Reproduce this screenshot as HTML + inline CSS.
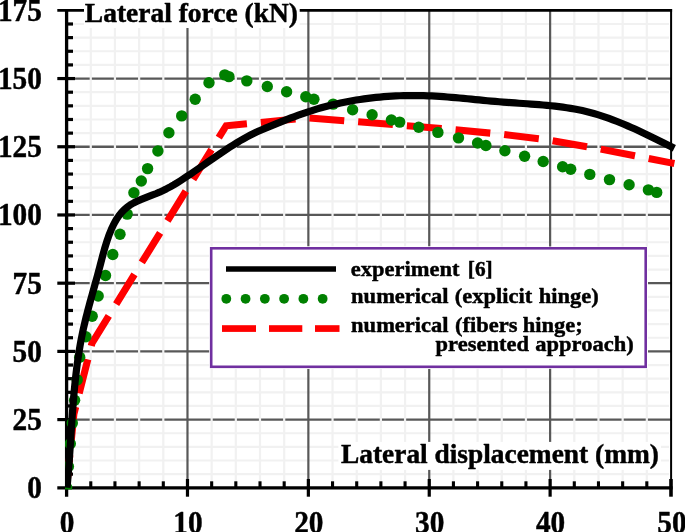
<!DOCTYPE html>
<html lang="en"><head><meta charset="utf-8"><title>Lateral force vs lateral displacement</title>
<style>html,body{margin:0;padding:0;background:#fff}body{width:685px;height:532px;overflow:hidden}svg{display:block}text{font-family:"Liberation Serif",serif;font-weight:bold;fill:#000;stroke:#000;stroke-width:0.45px;stroke-linejoin:round}</style></head><body>
<svg width="685" height="532" viewBox="0 0 685 532">
<rect width="685" height="532" fill="#fff"/>
<g stroke="#585858" stroke-width="2.3" fill="none">
<line x1="66.6" y1="419.59" x2="671" y2="419.59"/>
<line x1="66.6" y1="351.39" x2="671" y2="351.39"/>
<line x1="66.6" y1="283.18" x2="671" y2="283.18"/>
<line x1="66.6" y1="214.97" x2="671" y2="214.97"/>
<line x1="66.6" y1="146.76" x2="671" y2="146.76"/>
<line x1="66.6" y1="78.56" x2="671" y2="78.56"/>
</g>
<g stroke="#f1f1f1" stroke-width="2.2" fill="none">
<line x1="66.6" y1="474.16" x2="669" y2="474.16"/>
<line x1="66.6" y1="460.52" x2="669" y2="460.52"/>
<line x1="66.6" y1="446.88" x2="669" y2="446.88"/>
<line x1="66.6" y1="433.23" x2="669" y2="433.23"/>
<line x1="66.6" y1="405.95" x2="669" y2="405.95"/>
<line x1="66.6" y1="392.31" x2="669" y2="392.31"/>
<line x1="66.6" y1="378.67" x2="669" y2="378.67"/>
<line x1="66.6" y1="365.03" x2="669" y2="365.03"/>
<line x1="66.6" y1="337.74" x2="669" y2="337.74"/>
<line x1="66.6" y1="324.1" x2="669" y2="324.1"/>
<line x1="66.6" y1="310.46" x2="669" y2="310.46"/>
<line x1="66.6" y1="296.82" x2="669" y2="296.82"/>
<line x1="66.6" y1="269.54" x2="669" y2="269.54"/>
<line x1="66.6" y1="255.9" x2="669" y2="255.9"/>
<line x1="66.6" y1="242.25" x2="669" y2="242.25"/>
<line x1="66.6" y1="228.61" x2="669" y2="228.61"/>
<line x1="66.6" y1="201.33" x2="669" y2="201.33"/>
<line x1="66.6" y1="187.69" x2="669" y2="187.69"/>
<line x1="66.6" y1="174.05" x2="669" y2="174.05"/>
<line x1="66.6" y1="160.41" x2="669" y2="160.41"/>
<line x1="66.6" y1="133.12" x2="669" y2="133.12"/>
<line x1="66.6" y1="119.48" x2="669" y2="119.48"/>
<line x1="66.6" y1="105.84" x2="669" y2="105.84"/>
<line x1="66.6" y1="92.2" x2="669" y2="92.2"/>
<line x1="66.6" y1="64.92" x2="669" y2="64.92"/>
<line x1="66.6" y1="51.27" x2="669" y2="51.27"/>
<line x1="66.6" y1="37.63" x2="669" y2="37.63"/>
<line x1="66.6" y1="23.99" x2="669" y2="23.99"/>
<line x1="90.78" y1="10.35" x2="90.78" y2="487.8"/>
<line x1="114.95" y1="10.35" x2="114.95" y2="487.8"/>
<line x1="139.13" y1="10.35" x2="139.13" y2="487.8"/>
<line x1="163.3" y1="10.35" x2="163.3" y2="487.8"/>
<line x1="211.66" y1="10.35" x2="211.66" y2="487.8"/>
<line x1="235.83" y1="10.35" x2="235.83" y2="487.8"/>
<line x1="260.01" y1="10.35" x2="260.01" y2="487.8"/>
<line x1="284.18" y1="10.35" x2="284.18" y2="487.8"/>
<line x1="332.54" y1="10.35" x2="332.54" y2="487.8"/>
<line x1="356.71" y1="10.35" x2="356.71" y2="487.8"/>
<line x1="380.89" y1="10.35" x2="380.89" y2="487.8"/>
<line x1="405.06" y1="10.35" x2="405.06" y2="487.8"/>
<line x1="453.42" y1="10.35" x2="453.42" y2="487.8"/>
<line x1="477.59" y1="10.35" x2="477.59" y2="487.8"/>
<line x1="501.77" y1="10.35" x2="501.77" y2="487.8"/>
<line x1="525.94" y1="10.35" x2="525.94" y2="487.8"/>
<line x1="574.3" y1="10.35" x2="574.3" y2="487.8"/>
<line x1="598.47" y1="10.35" x2="598.47" y2="487.8"/>
<line x1="622.65" y1="10.35" x2="622.65" y2="487.8"/>
<line x1="646.82" y1="10.35" x2="646.82" y2="487.8"/>
</g>
<g stroke="#585858" stroke-width="2.2" fill="none">
<line x1="187.48" y1="10.35" x2="187.48" y2="487.8"/>
<line x1="308.36" y1="10.35" x2="308.36" y2="487.8"/>
<line x1="429.24" y1="10.35" x2="429.24" y2="487.8"/>
<line x1="550.12" y1="10.35" x2="550.12" y2="487.8"/>
</g>
<g stroke="#000" fill="none">
<line x1="57.3" y1="10.4" x2="672.1" y2="10.4" stroke-width="2.9"/>
<line x1="671.1" y1="9" x2="671.1" y2="487.8" stroke-width="2"/>
<line x1="66.6" y1="9" x2="66.6" y2="496.7" stroke-width="3.3"/>
<line x1="57.3" y1="487.8" x2="672.6" y2="487.8" stroke-width="3.3"/>
<line x1="66.6" y1="474.16" x2="73" y2="474.16" stroke-width="3.2"/>
<line x1="66.6" y1="460.52" x2="73" y2="460.52" stroke-width="3.2"/>
<line x1="66.6" y1="446.88" x2="73" y2="446.88" stroke-width="3.2"/>
<line x1="66.6" y1="433.23" x2="73" y2="433.23" stroke-width="3.2"/>
<line x1="57.3" y1="419.59" x2="75" y2="419.59" stroke-width="3.2"/>
<line x1="66.6" y1="405.95" x2="73" y2="405.95" stroke-width="3.2"/>
<line x1="66.6" y1="392.31" x2="73" y2="392.31" stroke-width="3.2"/>
<line x1="66.6" y1="378.67" x2="73" y2="378.67" stroke-width="3.2"/>
<line x1="66.6" y1="365.03" x2="73" y2="365.03" stroke-width="3.2"/>
<line x1="57.3" y1="351.39" x2="75" y2="351.39" stroke-width="3.2"/>
<line x1="66.6" y1="337.74" x2="73" y2="337.74" stroke-width="3.2"/>
<line x1="66.6" y1="324.1" x2="73" y2="324.1" stroke-width="3.2"/>
<line x1="66.6" y1="310.46" x2="73" y2="310.46" stroke-width="3.2"/>
<line x1="66.6" y1="296.82" x2="73" y2="296.82" stroke-width="3.2"/>
<line x1="57.3" y1="283.18" x2="75" y2="283.18" stroke-width="3.2"/>
<line x1="66.6" y1="269.54" x2="73" y2="269.54" stroke-width="3.2"/>
<line x1="66.6" y1="255.9" x2="73" y2="255.9" stroke-width="3.2"/>
<line x1="66.6" y1="242.25" x2="73" y2="242.25" stroke-width="3.2"/>
<line x1="66.6" y1="228.61" x2="73" y2="228.61" stroke-width="3.2"/>
<line x1="57.3" y1="214.97" x2="75" y2="214.97" stroke-width="3.2"/>
<line x1="66.6" y1="201.33" x2="73" y2="201.33" stroke-width="3.2"/>
<line x1="66.6" y1="187.69" x2="73" y2="187.69" stroke-width="3.2"/>
<line x1="66.6" y1="174.05" x2="73" y2="174.05" stroke-width="3.2"/>
<line x1="66.6" y1="160.41" x2="73" y2="160.41" stroke-width="3.2"/>
<line x1="57.3" y1="146.76" x2="75" y2="146.76" stroke-width="3.2"/>
<line x1="66.6" y1="133.12" x2="73" y2="133.12" stroke-width="3.2"/>
<line x1="66.6" y1="119.48" x2="73" y2="119.48" stroke-width="3.2"/>
<line x1="66.6" y1="105.84" x2="73" y2="105.84" stroke-width="3.2"/>
<line x1="66.6" y1="92.2" x2="73" y2="92.2" stroke-width="3.2"/>
<line x1="57.3" y1="78.56" x2="75" y2="78.56" stroke-width="3.2"/>
<line x1="66.6" y1="64.92" x2="73" y2="64.92" stroke-width="3.2"/>
<line x1="66.6" y1="51.27" x2="73" y2="51.27" stroke-width="3.2"/>
<line x1="66.6" y1="37.63" x2="73" y2="37.63" stroke-width="3.2"/>
<line x1="66.6" y1="23.99" x2="73" y2="23.99" stroke-width="3.2"/>
<line x1="90.78" y1="481.3" x2="90.78" y2="487.8" stroke-width="3.1"/>
<line x1="114.95" y1="481.3" x2="114.95" y2="487.8" stroke-width="3.1"/>
<line x1="139.13" y1="481.3" x2="139.13" y2="487.8" stroke-width="3.1"/>
<line x1="163.3" y1="481.3" x2="163.3" y2="487.8" stroke-width="3.1"/>
<line x1="187.48" y1="479" x2="187.48" y2="496.7" stroke-width="3.2"/>
<line x1="211.66" y1="481.3" x2="211.66" y2="487.8" stroke-width="3.1"/>
<line x1="235.83" y1="481.3" x2="235.83" y2="487.8" stroke-width="3.1"/>
<line x1="260.01" y1="481.3" x2="260.01" y2="487.8" stroke-width="3.1"/>
<line x1="284.18" y1="481.3" x2="284.18" y2="487.8" stroke-width="3.1"/>
<line x1="308.36" y1="479" x2="308.36" y2="496.7" stroke-width="3.2"/>
<line x1="332.54" y1="481.3" x2="332.54" y2="487.8" stroke-width="3.1"/>
<line x1="356.71" y1="481.3" x2="356.71" y2="487.8" stroke-width="3.1"/>
<line x1="380.89" y1="481.3" x2="380.89" y2="487.8" stroke-width="3.1"/>
<line x1="405.06" y1="481.3" x2="405.06" y2="487.8" stroke-width="3.1"/>
<line x1="429.24" y1="479" x2="429.24" y2="496.7" stroke-width="3.2"/>
<line x1="453.42" y1="481.3" x2="453.42" y2="487.8" stroke-width="3.1"/>
<line x1="477.59" y1="481.3" x2="477.59" y2="487.8" stroke-width="3.1"/>
<line x1="501.77" y1="481.3" x2="501.77" y2="487.8" stroke-width="3.1"/>
<line x1="525.94" y1="481.3" x2="525.94" y2="487.8" stroke-width="3.1"/>
<line x1="550.12" y1="479" x2="550.12" y2="496.7" stroke-width="3.2"/>
<line x1="574.3" y1="481.3" x2="574.3" y2="487.8" stroke-width="3.1"/>
<line x1="598.47" y1="481.3" x2="598.47" y2="487.8" stroke-width="3.1"/>
<line x1="622.65" y1="481.3" x2="622.65" y2="487.8" stroke-width="3.1"/>
<line x1="646.82" y1="481.3" x2="646.82" y2="487.8" stroke-width="3.1"/>
<line x1="671" y1="479" x2="671" y2="496.7" stroke-width="3.6"/>
</g>
<clipPath id="pc"><rect x="65" y="0" width="620" height="489.4"/></clipPath>
<path d="M66.6 487.8 L73.85 414.14 L91.98 343.2 L226.16 125.76 L308.36 117.84 L356.71 121.66 L441.33 128.48 L501.77 134.21 L550.12 140.22 L598.47 148.67 L634.74 155.77 L671 162.86 L674.38 163.52" fill="none" stroke="#ff0000" stroke-width="7.1" stroke-dasharray="34.9 13.96" stroke-dashoffset="2.2" stroke-linejoin="miter" clip-path="url(#pc)"/>
<g fill="#008000" clip-path="url(#pc)">
<circle cx="66.6" cy="487.5" r="5.7"/>
<circle cx="68.4" cy="466.5" r="5.7"/>
<circle cx="70.3" cy="443.8" r="5.7"/>
<circle cx="72.3" cy="423.1" r="5.7"/>
<circle cx="74.6" cy="400.3" r="5.7"/>
<circle cx="77.2" cy="379.9" r="5.7"/>
<circle cx="79.7" cy="357.3" r="5.7"/>
<circle cx="85.9" cy="336.7" r="5.7"/>
<circle cx="92.2" cy="316.3" r="5.7"/>
<circle cx="98.2" cy="296" r="5.7"/>
<circle cx="105.5" cy="275.5" r="5.7"/>
<circle cx="112.8" cy="254.5" r="5.7"/>
<circle cx="120" cy="234.2" r="5.7"/>
<circle cx="127.2" cy="214.1" r="5.7"/>
<circle cx="133.9" cy="192.8" r="5.7"/>
<circle cx="141.3" cy="181" r="5.7"/>
<circle cx="147.6" cy="168.6" r="5.7"/>
<circle cx="157.9" cy="151" r="5.7"/>
<circle cx="168.9" cy="132.8" r="5.7"/>
<circle cx="181.7" cy="115.9" r="5.7"/>
<circle cx="195.2" cy="99.3" r="5.7"/>
<circle cx="209" cy="82.8" r="5.7"/>
<circle cx="224.8" cy="74.9" r="5.7"/>
<circle cx="228.9" cy="76.6" r="5.7"/>
<circle cx="246.8" cy="80.9" r="5.7"/>
<circle cx="267.3" cy="86.5" r="5.7"/>
<circle cx="286.6" cy="91.7" r="5.7"/>
<circle cx="305.8" cy="96.8" r="5.7"/>
<circle cx="313.9" cy="99.3" r="5.7"/>
<circle cx="333.1" cy="104.1" r="5.7"/>
<circle cx="352.6" cy="109.7" r="5.7"/>
<circle cx="372.1" cy="114.8" r="5.7"/>
<circle cx="391.4" cy="120" r="5.7"/>
<circle cx="399.7" cy="122.1" r="5.7"/>
<circle cx="418.7" cy="127.2" r="5.7"/>
<circle cx="437.9" cy="132.4" r="5.7"/>
<circle cx="458.5" cy="137.9" r="5.7"/>
<circle cx="477.6" cy="143" r="5.7"/>
<circle cx="485.9" cy="145.5" r="5.7"/>
<circle cx="504.9" cy="150.7" r="5.7"/>
<circle cx="524.6" cy="156.3" r="5.7"/>
<circle cx="543.2" cy="161.5" r="5.7"/>
<circle cx="562.6" cy="166.7" r="5.7"/>
<circle cx="570.7" cy="169.3" r="5.7"/>
<circle cx="589.8" cy="174.4" r="5.7"/>
<circle cx="609.5" cy="179.6" r="5.7"/>
<circle cx="629.1" cy="184.8" r="5.7"/>
<circle cx="648.4" cy="189.9" r="5.7"/>
<circle cx="656.7" cy="192.4" r="5.7"/>
</g>
<path d="M67 487.78 L67.37 483.84 L67.72 479.89 L68.06 475.93 L68.38 471.97 L68.69 468.01 L68.99 464.04 L69.28 460.07 L69.56 456.09 L69.83 452.12 L70.1 448.13 L70.36 444.15 L70.62 440.17 L70.88 436.18 L71.14 432.19 L71.4 428.2 L71.66 424.21 L71.93 420.22 L72.21 416.23 L72.5 412.24 L72.79 408.25 L73.1 404.27 L73.42 400.28 L73.76 396.3 L74.11 392.32 L74.48 388.34 L74.87 384.37 L75.29 380.4 L75.72 376.43 L76.18 372.47 L76.66 368.52 L77.17 364.57 L77.71 360.62 L78.28 356.68 L78.89 352.75 L79.52 348.83 L80.19 344.91 L80.9 341 L81.65 337.09 L82.43 333.2 L83.26 329.31 L84.13 325.44 L85.04 321.57 L85.98 317.71 L86.96 313.85 L87.96 310 L88.98 306.16 L90.02 302.31 L91.08 298.47 L92.14 294.63 L93.22 290.78 L94.29 286.94 L95.37 283.09 L96.44 279.24 L97.5 275.38 L98.54 271.52 L99.57 267.65 L100.58 263.78 L101.59 259.9 L102.6 256.02 L103.65 252.15 L104.73 248.29 L105.88 244.44 L107.1 240.62 L108.41 236.81 L109.82 233.04 L111.36 229.31 L113.04 225.64 L114.88 222.08 L116.89 218.67 L119.1 215.43 L121.52 212.41 L124.17 209.64 L127.07 207.16 L130.21 204.97 L133.55 203.01 L137.06 201.26 L140.7 199.64 L144.43 198.13 L148.21 196.68 L152.01 195.22 L155.78 193.73 L159.5 192.15 L163.14 190.47 L166.71 188.68 L170.22 186.8 L173.68 184.84 L177.08 182.8 L180.45 180.71 L183.78 178.56 L187.09 176.37 L190.39 174.15 L193.67 171.9 L196.96 169.64 L200.24 167.38 L203.53 165.1 L206.82 162.83 L210.11 160.55 L213.41 158.28 L216.71 156.02 L220.01 153.76 L223.32 151.52 L226.65 149.3 L229.98 147.11 L233.33 144.95 L236.7 142.83 L240.1 140.77 L243.53 138.77 L247 136.84 L250.51 134.99 L254.07 133.24 L257.67 131.56 L261.3 129.95 L264.96 128.39 L268.64 126.86 L272.33 125.34 L276.02 123.84 L279.73 122.35 L283.44 120.87 L287.15 119.41 L290.88 117.98 L294.62 116.57 L298.37 115.2 L302.13 113.86 L305.9 112.56 L309.69 111.3 L313.49 110.09 L317.3 108.93 L321.13 107.82 L324.97 106.76 L328.83 105.75 L332.7 104.79 L336.58 103.88 L340.47 103.02 L344.37 102.21 L348.28 101.45 L352.21 100.73 L356.14 100.06 L360.08 99.45 L364.02 98.87 L367.98 98.35 L371.94 97.87 L375.9 97.43 L379.87 97.05 L383.85 96.7 L387.83 96.41 L391.81 96.15 L395.79 95.94 L399.78 95.77 L403.77 95.65 L407.76 95.57 L411.75 95.53 L415.74 95.54 L419.72 95.58 L423.71 95.67 L427.69 95.8 L431.67 95.97 L435.65 96.17 L439.62 96.41 L443.59 96.68 L447.56 96.98 L451.53 97.3 L455.5 97.65 L459.47 98.01 L463.43 98.38 L467.4 98.76 L471.37 99.15 L475.33 99.55 L479.3 99.94 L483.27 100.33 L487.25 100.71 L491.22 101.09 L495.2 101.44 L499.18 101.78 L503.16 102.1 L507.15 102.4 L511.14 102.69 L515.13 102.96 L519.12 103.23 L523.11 103.49 L527.1 103.76 L531.09 104.04 L535.07 104.33 L539.05 104.64 L543.03 104.97 L547 105.33 L550.96 105.72 L554.92 106.15 L558.86 106.62 L562.8 107.14 L566.73 107.71 L570.64 108.33 L574.55 109.02 L578.44 109.77 L582.32 110.6 L586.18 111.5 L590.03 112.48 L593.86 113.54 L597.68 114.66 L601.48 115.86 L605.27 117.12 L609.04 118.44 L612.79 119.82 L616.53 121.25 L620.26 122.73 L623.97 124.26 L627.66 125.83 L631.34 127.44 L635 129.08 L638.65 130.75 L642.28 132.45 L645.9 134.17 L649.5 135.91 L653.09 137.67 L656.66 139.43 L660.22 141.21 L663.76 142.99 L667.28 144.77 L670.79 146.54 L674.29 148.31" fill="none" stroke="#000" stroke-width="7.2" stroke-linecap="butt" stroke-linejoin="round" clip-path="url(#pc)"/>
<g font-size="29.3px" text-anchor="end">
<text transform="translate(41.8 498.15) scale(1 1.1)">0</text>
<text transform="translate(41.8 429.94) scale(1 1.1)">25</text>
<text transform="translate(41.8 361.74) scale(1 1.1)">50</text>
<text transform="translate(41.8 293.53) scale(1 1.1)">75</text>
<text transform="translate(41.8 225.32) scale(1 1.1)">100</text>
<text transform="translate(41.8 157.11) scale(1 1.1)">125</text>
<text transform="translate(41.8 88.91) scale(1 1.1)">150</text>
<text transform="translate(41.8 20.7) scale(1 1.1)">175</text>
</g>
<g font-size="29.3px" text-anchor="middle">
<text transform="translate(67.1 532.8) scale(1 1.1)">0</text>
<text transform="translate(187.98 532.8) scale(1 1.1)">10</text>
<text transform="translate(308.86 532.8) scale(1 1.1)">20</text>
<text transform="translate(429.74 532.8) scale(1 1.1)">30</text>
<text transform="translate(550.62 532.8) scale(1 1.1)">40</text>
<text transform="translate(672 532.8) scale(1 1.1)">50</text>
</g>
<rect x="84" y="0" width="215.7" height="28" fill="#fff"/>
<text transform="translate(84.8 21.8) scale(1 1.02)" font-size="27.5px">Lateral force (kN)</text>
<rect x="338.4" y="441.9" width="322.6" height="28" fill="#fff"/>
<text transform="translate(341 463) scale(1 1.03)" font-size="27.4px">Lateral displacement (mm)</text>
<rect x="209.4" y="246.5" width="238.6" height="122.3" fill="#fff" transform="scale(1)"/>
<rect x="209.4" y="246.5" width="438.6" height="122.3" fill="#fff"/>
<rect x="211.2" y="248.3" width="434.5" height="118.5" fill="#fff" stroke="#7030a0" stroke-width="2.6"/>
<line x1="226" y1="269" x2="336" y2="269" stroke="#000" stroke-width="5.6"/>
<g fill="#008000">
<circle cx="226.3" cy="298.8" r="4.9"/>
<circle cx="245.57" cy="298.8" r="4.9"/>
<circle cx="264.84" cy="298.8" r="4.9"/>
<circle cx="284.11" cy="298.8" r="4.9"/>
<circle cx="303.38" cy="298.8" r="4.9"/>
<circle cx="322.65" cy="298.8" r="4.9"/>
</g>
<g fill="#ff0000">
<rect x="222" y="325.2" width="34" height="6.7"/>
<rect x="269" y="325.2" width="33.3" height="6.7"/>
<rect x="315" y="325.2" width="24.5" height="6.7"/>
</g>
<g font-size="22px">
<text transform="translate(350.7 275.7) scale(1.023 1)">experiment</text>
<text transform="translate(467.8 275.7) scale(0.97 1)">[6]</text>
<text transform="translate(351.1 302.6) scale(1.023 1)">numerical</text>
<text transform="translate(454.7 302.6) scale(1.023 1)">(explicit</text>
<text transform="translate(538.8 302.6) scale(1.023 1)">hinge)</text>
<text transform="translate(351.1 331.8) scale(1.023 1)">numerical</text>
<text transform="translate(454.9 331.8) scale(1.023 1)">(fibers</text>
<text transform="translate(522.8 331.8) scale(1.023 1)">hinge;</text>
<text transform="translate(435.6 350.6) scale(1.023 1)">presented</text>
<text transform="translate(535.3 350.6) scale(1.023 1)">approach)</text>
</g>
</svg></body></html>
